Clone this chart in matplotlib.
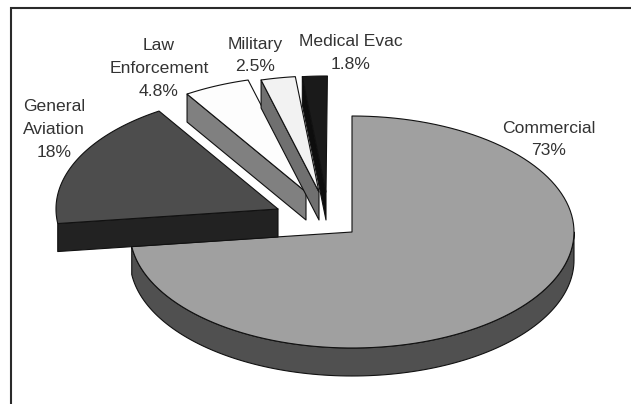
import numpy as np
import matplotlib
matplotlib.use("Agg")
import matplotlib.pyplot as plt

categories = ["Commercial", "General\nAviation", "Law\nEnforcement", "Military", "Medical Evac"]
shares = [73, 18, 4.8, 2.5, 1.8]
share_labels = ["73%", "18%", "4.8%", "2.5%", "1.8%"]

# styling / layout
top_colors = ["#a0a0a0", "#4d4d4d", "#fdfdfd", "#f2f2f2", "#1a1a1a"]
side_colors = ["#505050", "#222222", "#808080", "#707070", "#0d0d0d"]
explode_px = [(0, 0), (-74, -23), (-46, -40), (-33, -40), (-26, -40)]
label_xy = [(549, 139.5), (54, 129.5), (159, 68.5), (255, 55.5), (351, 53)]
CX, CY, RX, RY, DEPTH = 352, 232, 222, 116, 28
EDGE = "#111111"

plt.rcParams["font.family"] = ["Liberation Sans", "DejaVu Sans"]
fig = plt.figure(figsize=(6.31, 4.04), dpi=100, facecolor="white")
ax = fig.add_axes([0, 0, 1, 1])
ax.set_xlim(0, 631)
ax.set_ylim(404, 0)
ax.axis("off")

# frame: only the top and left sides fall inside the picture
ax.plot([10.5, 10.5, 631], [404, 7.5, 7.5], color="#2a2a2a", lw=1.5, zorder=1,
        solid_joinstyle="miter")


def rim(a0, a1, ox, oy, dz=0, n=120):
    t = np.radians(np.linspace(a0, a1, n))
    return CX + ox + RX * np.cos(t), CY + oy - RY * np.sin(t) + dz


def fill(x, y, color, z):
    ax.fill(x, y, facecolor=color, edgecolor=EDGE, lw=0.8, zorder=z, joinstyle="round")


angle = 90.0
for i, v in enumerate(shares):
    a0, a1 = angle, angle - 3.6 * v
    angle = a1
    ox, oy = explode_px[i]
    z = 2 + i
    apex_x, apex_y = CX + ox, CY + oy
    tx, ty = rim(a0, a1, ox, oy)
    if i == 0:
        # outer rim wall, visible on the lower half of the ellipse
        sx, sy = rim(0, a1, ox, oy)
        bx, by = rim(a1, 0, ox, oy, DEPTH)
        fill(np.r_[sx, bx], np.r_[sy, by], side_colors[i], z)
    else:
        # cut face along the slice's left radius
        fill([apex_x, tx[0], tx[0], apex_x],
             [apex_y, ty[0], ty[0] + DEPTH, apex_y + DEPTH], side_colors[i], z)
    fill(np.r_[apex_x, tx], np.r_[apex_y, ty], top_colors[i], z + 0.5)

for name, pct, (lx, ly) in zip(categories, share_labels, label_xy):
    ax.text(lx, ly, name + "\n" + pct, ha="center", va="center", fontsize=12.6,
            color="#333333", linespacing=1.66, zorder=10)

fig.savefig("out.png", dpi=100, facecolor="white")
